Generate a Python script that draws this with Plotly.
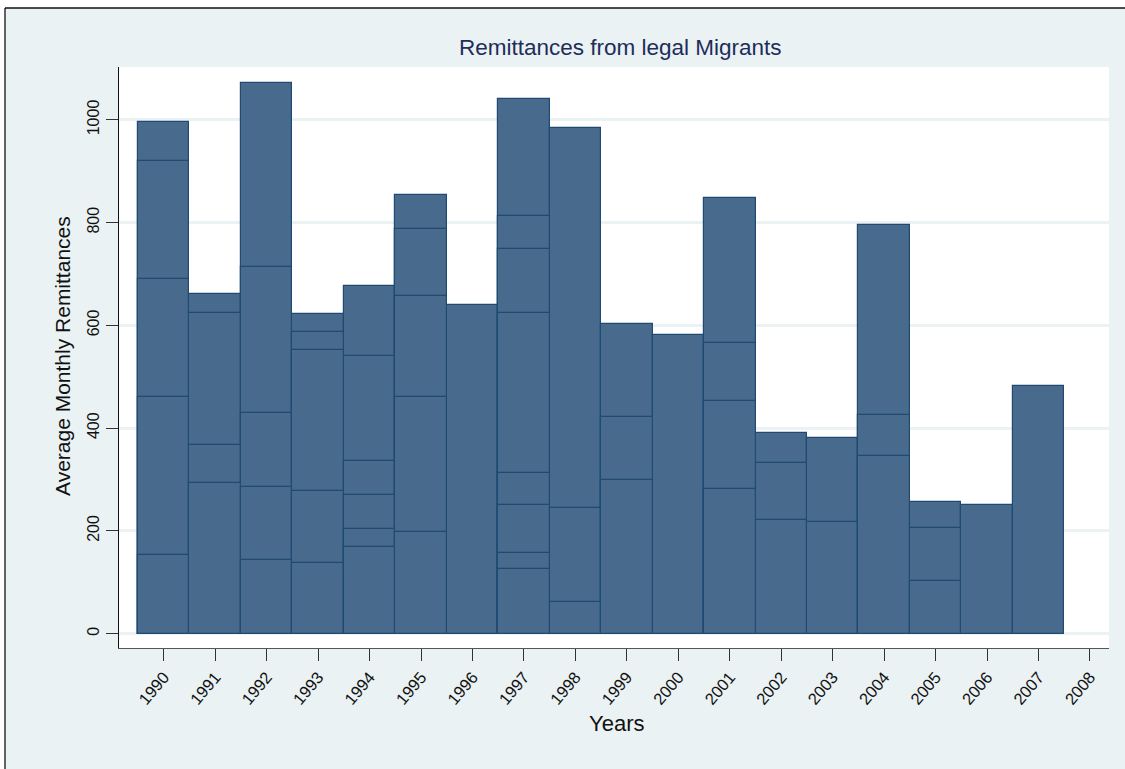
import plotly.graph_objects as go

years = list(range(1990, 2008))
tick_years = list(range(1990, 2009))

# Overlaid bars per year, ordered from tallest (layer1) to shortest
layer1 = [995, 662, 1071, 623, 676, 854, 639, 1040, 984, 602, 581, 848, 390, 381, 796, 256, 250, 483]
layer2 = [920, 625, 713, 588, 540, 788, None, 812, 245, 421, None, 565, 333, 218, 425, 206, None, None]
layer3 = [690, 367, 429, 553, 337, 657, None, 748, 61, 300, None, 452, 222, None, 345, 102, None, None]
layer4 = [460, 294, 285, 278, 270, 460, None, 624, None, None, None, 282, None, None, None, None, None, None]
layer5 = [153, None, 143, 138, 203, 198, None, 312, None, None, None, None, None, None, None, None, None, None]
layer6 = [None, None, None, None, 169, None, None, 250, None, None, None, None, None, None, None, None, None, None]
layer7 = [None, None, None, None, None, None, None, 156, None, None, None, None, None, None, None, None, None, None]
layer8 = [None, None, None, None, None, None, None, 125, None, None, None, None, None, None, None, None, None, None]

layers = [layer1, layer2, layer3, layer4, layer5, layer6, layer7, layer8]

FILL = "#476A8D"
EDGE = "#1F4A72"
BG = "#EAF2F3"
FONT = "Liberation Sans, Arial, sans-serif"

fig = go.Figure()
for vals in layers:
    fig.add_trace(go.Bar(
        x=years, y=vals, width=1.0,
        marker=dict(color=FILL, line=dict(color=EDGE, width=1.2)),
        showlegend=False, hoverinfo="x+y",
    ))

L, R, T, B = 119, 16, 67, 121
W, H = 1125, 769
pw, ph = W - L - R, H - T - B

def px(xp):
    return (xp - L) / pw

def py(yp):
    return (H - B - yp) / ph

shapes = [
    dict(type="rect", xref="paper", yref="paper", x0=px(-5), x1=px(W + 5), y0=py(8), y1=py(-5),
         fillcolor="white", line=dict(width=0), layer="below"),
    dict(type="rect", xref="paper", yref="paper", x0=px(-5), x1=px(5), y0=py(H + 5), y1=py(-5),
         fillcolor="white", line=dict(width=0), layer="below"),
    dict(type="line", xref="paper", yref="paper", x0=px(5), x1=px(5), y0=py(H + 5), y1=py(8),
         line=dict(color="#111111", width=1.3)),
    dict(type="line", xref="paper", yref="paper", x0=px(5), x1=px(W + 5), y0=py(8), y1=py(8),
         line=dict(color="#111111", width=1.3)),
]

annotations = [
    dict(text="Remittances from legal Migrants", xref="paper", yref="paper",
         x=px(620), y=py(48), xanchor="center", yanchor="middle", showarrow=False,
         font=dict(family=FONT, size=22.5, color="#1E2D5A")),
    dict(text="Years", xref="paper", yref="paper",
         x=px(616), y=py(723), xanchor="center", yanchor="middle", showarrow=False,
         font=dict(family=FONT, size=22, color="#111111")),
    dict(text="Average Monthly Remittances", xref="paper", yref="paper",
         x=px(62), y=py(356), xanchor="center", yanchor="middle", showarrow=False,
         textangle=-90, font=dict(family=FONT, size=21, color="#111111")),
]

fig.update_layout(
    width=W, height=H,
    margin=dict(l=L, r=R, t=T, b=B, autoexpand=False),
    paper_bgcolor=BG, plot_bgcolor="white",
    barmode="overlay", bargap=0,
    shapes=shapes, annotations=annotations,
    font=dict(family=FONT, color="#111111"),
    xaxis=dict(
        range=[1989.13, 2008.37], tickmode="array", tickvals=tick_years,
        ticktext=[str(y) for y in tick_years], tickangle=-50,
        ticks="outside", ticklen=12, tickcolor="#333333", tickwidth=1.2,
        showline=True, linecolor="#555555", linewidth=1.2,
        showgrid=False, zeroline=False,
        tickfont=dict(family=FONT, size=16.5, color="#111111"),
    ),
    yaxis=dict(
        range=[-28, 1103], tickmode="array", tickvals=[0, 200, 400, 600, 800, 1000],
        tickangle=-90, ticks="outside", ticklen=12, tickcolor="#333333", tickwidth=1.2,
        showline=True, linecolor="#111111", linewidth=1.3,
        showgrid=True, gridcolor=BG, gridwidth=2.5, zeroline=False,
        tickfont=dict(family=FONT, size=16, color="#111111"),
    ),
)

fig.write_html(
    "out.html",
    config={"displayModeBar": False},
    post_script="document.body.style.margin='0px';document.body.style.overflow='hidden';",
)
